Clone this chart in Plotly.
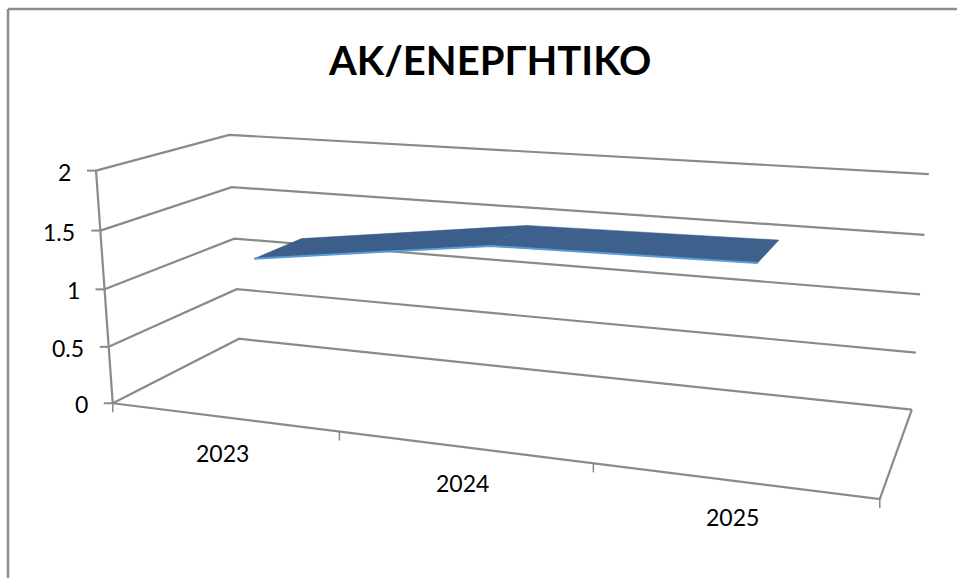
import numpy as np
import plotly.graph_objects as go

# Chart data
years = ["2023", "2024", "2025"]
ratio = [1.21, 1.48, 1.51]
value_ticks = [0, 0.5, 1, 1.5, 2]
value_tick_labels = ["0", "0.5", "1", "1.5", "2"]
chart_title = "ΑΚ/ΕΝΕΡΓΗΤΙΚΟ"

# Ribbon thickness along the depth axis of the 3-D box
RIBBON_FRONT, RIBBON_BACK = 0.294, 0.696

# Homogeneous camera matrix: (category, depth, value, 1) -> page pixels
CAMERA = np.array([
    [208.4551, 161.7817, -10.30298, 112.748],
    [5.161061, -14.38229, -119.7567, 403.2572],
    [-0.05367503, 0.1479682, -0.02013266, 1.0],
])

GREY = "#8A8A8A"
FONT = "Lato, 'Open Sans', sans-serif"


def project(cat, depth, value):
    h = CAMERA @ np.array([cat, depth, value, 1.0])
    return h[0] / h[2], h[1] / h[2]


def polyline(points):
    xy = [project(*p) for p in points]
    return [p[0] for p in xy], [p[1] for p in xy]


fig = go.Figure()


def add_line(points, color=GREY, width=2.2):
    x, y = polyline(points)
    fig.add_trace(go.Scatter(x=x, y=y, mode="lines", hoverinfo="skip",
                             line=dict(color=color, width=width)))


n = len(years)

# Gridlines running along the side wall and the back wall
for v in value_ticks:
    add_line([(0, 0, v), (0, 1, v), (n, 1, v)])

# Floor outline and the value axis
add_line([(0, 0, 0), (n, 0, 0), (n, 1, 0)])
add_line([(0, 0, 0), (0, 0, max(value_ticks))])

# Tick marks on both axes, offset in screen space
for v in value_ticks:
    x, y = project(0, 0, v)
    fig.add_shape(type="line", x0=x - 9, x1=x, y0=y, y1=y,
                  line=dict(color=GREY, width=2))
for i in range(n + 1):
    x, y = project(i, 0, 0)
    fig.add_shape(type="line", x0=x, x1=x, y0=y, y1=y + 9,
                  line=dict(color=GREY, width=1.5))

# Ribbon: one quad per segment, the light front edge drawn on top
segment_fills = ["#3B5E8B", "#3D608D"]
for i in range(n - 1):
    a, b = ratio[i], ratio[i + 1]
    x, y = polyline([(i + .5, RIBBON_FRONT, a), (i + 1.5, RIBBON_FRONT, b),
                     (i + 1.5, RIBBON_BACK, b), (i + .5, RIBBON_BACK, a),
                     (i + .5, RIBBON_FRONT, a)])
    fig.add_trace(go.Scatter(x=x, y=y, mode="lines", fill="toself", hoverinfo="skip",
                             fillcolor=segment_fills[i],
                             line=dict(color=segment_fills[i], width=0.5)))
add_line([(i + .5, RIBBON_FRONT, ratio[i]) for i in range(n)], color="#5B9BD5", width=2)

# Axis labels
for v, label in zip(value_ticks, value_tick_labels):
    x, y = project(0, 0, v)
    fig.add_annotation(x=x, y=y, text=label, showarrow=False, xanchor="right", yanchor="middle",
                       xshift=-23, yshift=-1, font=dict(family=FONT, size=23, color="#000000"))
for i, year in enumerate(years):
    x, y = project(i + .5, 0, 0)
    fig.add_annotation(x=x, y=y, text=year, showarrow=False, xanchor="center", yanchor="middle",
                       yshift=-36, font=dict(family=FONT, size=23, color="#000000"))

# Chart frame: only its top and left edges fall on the page
fig.add_shape(type="line", xref="paper", yref="paper", x0=8 / 957, x1=1, y0=1 - 9 / 578, y1=1 - 9 / 578,
              line=dict(color="#8C8C8C", width=2.5))
fig.add_shape(type="line", xref="paper", yref="paper", x0=8 / 957, x1=8 / 957, y0=0, y1=1 - 9 / 578,
              line=dict(color="#8C8C8C", width=2.5))

fig.add_annotation(xref="paper", yref="paper", x=489 / 957, y=1 - 60 / 578, text=f"<b>{chart_title}</b>",
                   showarrow=False, xanchor="center", yanchor="middle",
                   font=dict(family=FONT, size=40, color="#000000"))

fig.update_layout(
    width=957, height=578, margin=dict(l=0, r=0, t=0, b=0), showlegend=False,
    paper_bgcolor="#FFFFFF", plot_bgcolor="#FFFFFF",
    xaxis=dict(range=[0, 957], visible=False, fixedrange=True),
    yaxis=dict(range=[578, 0], visible=False, fixedrange=True),
)

fig.write_html("out.html", config=dict(displayModeBar=False))
